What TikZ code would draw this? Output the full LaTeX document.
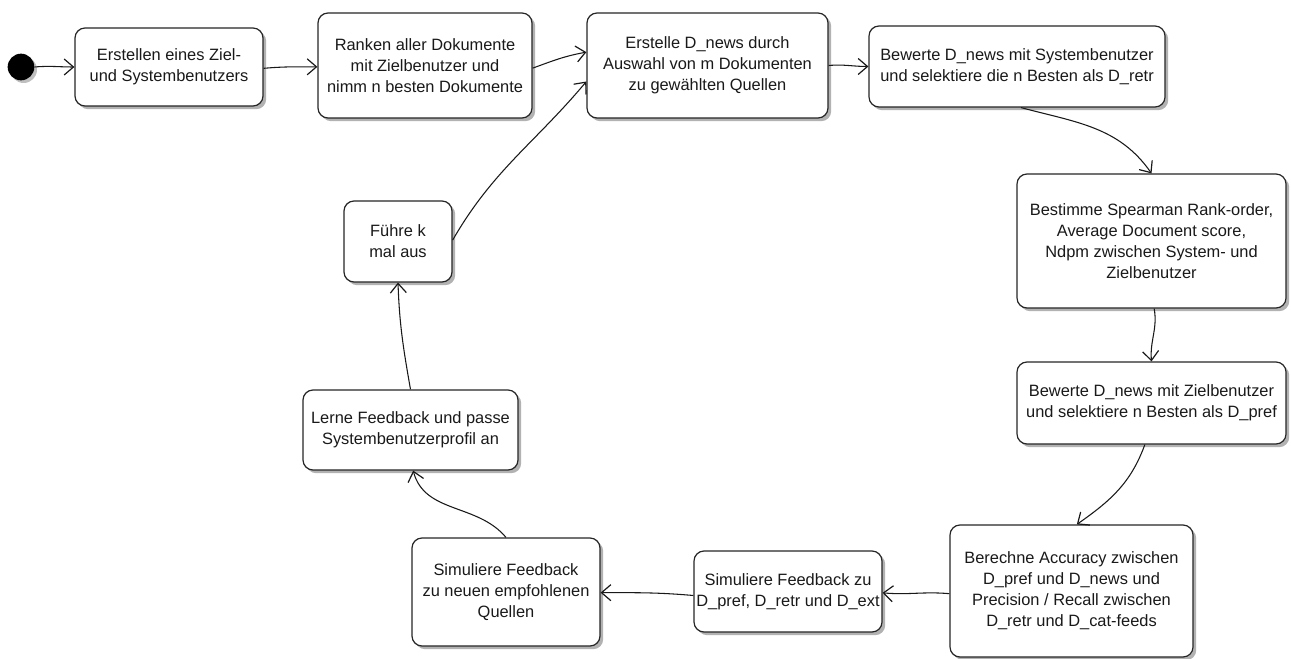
\documentclass[tikz,border=0pt]{standalone}
\usepackage{fontspec}
\setmainfont{Liberation Sans}
\usetikzlibrary{arrows.meta,shadows}
\begin{document}
\begin{tikzpicture}[x=0.75pt,y=-0.75pt,
  act/.style={draw=black!85, line width=0.9pt, rounded corners=7.5pt, fill=white,
    align=center, inner sep=0pt, text=black!90,
    font=\fontsize{12.3}{15.8}\selectfont,
    drop shadow={shadow xshift=2.4pt, shadow yshift=-2.4pt, fill=black, opacity=0.3}},
  flow/.style={draw=black!90, line width=0.8pt, -{Straight Barb[length=7pt,width=12pt,line width=0.9pt]}},
  startdot/.style={circle, fill=black, inner sep=0pt, minimum size=20pt,
    drop shadow={shadow xshift=2pt, shadow yshift=-2pt, fill=black, opacity=0.25}}
]
\useasboundingbox (0,0) rectangle (1291,659);

\node[startdot] (dot) at (21,67) {};
\node[act, minimum width=141pt, minimum height=58.5pt] (b1) at (169,67)
  {Erstellen eines Ziel-\\und Systembenutzers};
\node[act, minimum width=160.5pt, minimum height=78.75pt] (b2) at (425,65.5)
  {Ranken aller Dokumente\\mit Zielbenutzer und\\nimm n besten Dokumente};
\node[act, minimum width=180.75pt, minimum height=78.75pt] (b3) at (707.5,65.5)
  {Erstelle D\_news durch\\Auswahl von m Dokumenten\\zu gewählten Quellen};
\node[act, minimum width=222pt, minimum height=60.75pt] (b4) at (1017,66.5)
  {Bewerte D\_news mit Systembenutzer\\und selektiere die n Besten als D\_retr};
\node[act, minimum width=201.75pt, minimum height=100.5pt] (b5) at (1151.5,241)
  {Bestimme Spearman Rank-order,\\Average Document score,\\Ndpm zwischen System- und\\Zielbenutzer};
\node[act, minimum width=201.75pt, minimum height=61.5pt] (b6) at (1151.5,403)
  {Bewerte D\_news mit Zielbenutzer\\und selektiere n Besten als D\_pref};
\node[act, minimum width=182.25pt, minimum height=99pt] (b7) at (1071.5,591)
  {Berechne Accuracy zwischen\\D\_pref und D\_news und\\Precision / Recall zwischen\\D\_retr und D\_cat-feeds};
\node[act, minimum width=141pt, minimum height=60.75pt] (b8) at (788,591.5)
  {Simuliere Feedback zu\\D\_pref, D\_retr und D\_ext};
\node[act, minimum width=141pt, minimum height=81pt] (b9) at (506,592)
  {Simuliere Feedback\\zu neuen empfohlenen\\Quellen};
\node[act, minimum width=161.25pt, minimum height=60pt] (b10) at (410.5,430)
  {Lerne Feedback und passe\\Systembenutzerprofil an};
\node[act, minimum width=81pt, minimum height=60.75pt] (b11) at (398,241.5)
  {Führe k\\mal aus};

\draw[flow] (dot.east) to[out=5,in=180] (b1.west);
\draw[flow] ([yshift=-1pt]b1.east) to[out=5,in=180] ([yshift=-1pt]b2.west);
\draw[flow] ([yshift=-2pt]b2.east) to[out=20,in=190] ([yshift=10pt]b3.west);
\draw[flow] (b3.east) to[out=5,in=180] (b4.west);
\draw[flow] ([xshift=3pt]b4.south) to[out=-15,in=125] (b5.north);
\draw[flow] ([xshift=2pt]b5.south) to[out=-80,in=95] (b6.south |- b6.north);
\draw[flow] ([xshift=-5pt]b6.south) to[out=-110,in=35] ([xshift=4pt]b7.north);
\draw[flow] ([yshift=-2pt]b7.west) to[out=175,in=-5] ([yshift=-1pt]b8.east);
\draw[flow] ([yshift=-3pt]b8.west) to[out=175,in=0] ([yshift=-0.5pt]b9.east);
\draw[flow] (b9.north) to[out=130,in=-75] ([xshift=2pt]b10.south);
\draw[flow] (b10.north) to[out=100,in=-88] (b11.south);
\draw[flow] ([yshift=1pt]b11.east) to[out=60,in=-130] ([yshift=-12pt]b3.west);
\end{tikzpicture}
\end{document}
